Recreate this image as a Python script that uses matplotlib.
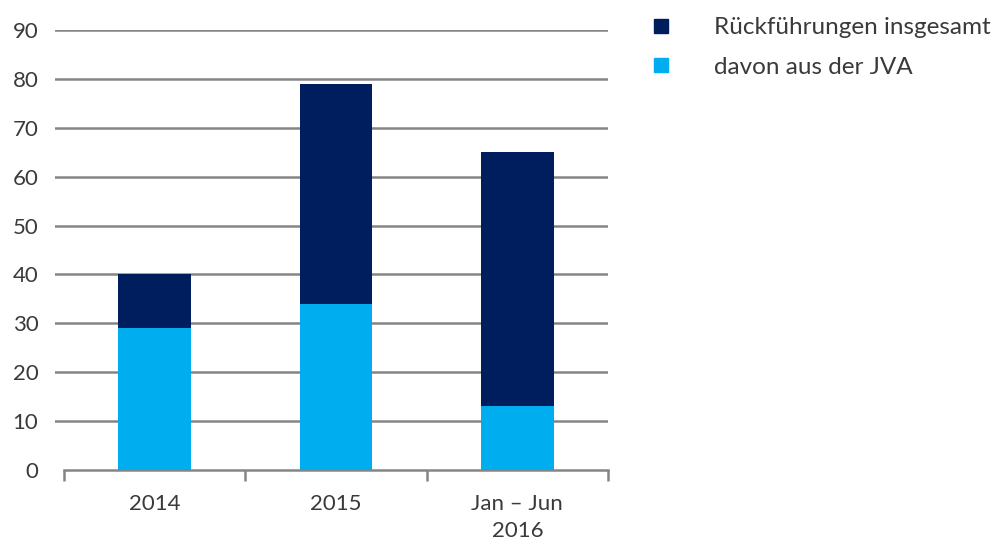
import matplotlib
matplotlib.use("Agg")
import matplotlib.pyplot as plt
from matplotlib.lines import Line2D

categories = ["2014", "2015", "Jan – Jun\n2016"]
total_returns = [40, 79, 65]      # Rückführungen insgesamt
from_jva = [29, 34, 13]           # davon aus der JVA
y_ticks = [0, 10, 20, 30, 40, 50, 60, 70, 80, 90]
legend_labels = ["Rückführungen insgesamt", "davon aus der JVA"]

DARK = "#001E5E"
LIGHT = "#00AEEF"
TEXT = "#3a3a3a"
GRID = "#858585"

plt.rcParams["font.family"] = ["Lato", "DejaVu Sans"]

fig = plt.figure(figsize=(10, 5.49), dpi=100)
ax = fig.add_axes([0.055, 0.1439, 0.553, 0.8015])

x = list(range(len(categories)))
width = 0.40
ax.bar(x, total_returns, width=width, color=DARK, zorder=2)
ax.bar(x, from_jva, width=width, color=LIGHT, zorder=3)

ax.set_xlim(-0.55, 2.5)
ax.set_ylim(0, 90)

# horizontal gridlines (zero line is the axis itself)
for v in y_ticks[1:]:
    ax.axhline(v, color=GRID, lw=1.8, zorder=1)

for s in ["top", "right", "left"]:
    ax.spines[s].set_visible(False)
ax.spines["bottom"].set_bounds(-0.5, 2.5)
ax.spines["bottom"].set_color(GRID)
ax.spines["bottom"].set_linewidth(1.8)

ax.set_yticks(y_ticks)
ax.set_yticklabels([str(v) for v in y_ticks])
ax.tick_params(axis="y", length=0, pad=12, labelsize=16, labelcolor=TEXT)

ax.set_xticks(x)
ax.set_xticklabels(categories, linespacing=1.45)
ax.tick_params(axis="x", which="major", length=0, pad=17, labelsize=16, labelcolor=TEXT)
ax.set_xticks([-0.5, 0.5, 1.5, 2.5], minor=True)
ax.tick_params(axis="x", which="minor", length=8, width=1.8, color=GRID, direction="out")

handles = [
    Line2D([], [], marker="s", linestyle="none", markersize=10, color=DARK),
    Line2D([], [], marker="s", linestyle="none", markersize=10, color=LIGHT),
]
fig.legend(handles, legend_labels, loc="upper left", bbox_to_anchor=(0.625, 1.008),
           frameon=False, fontsize=17.5, labelcolor=TEXT, handletextpad=1.55,
           labelspacing=0.75, handlelength=1.2)

fig.savefig("out.png", dpi=100)
